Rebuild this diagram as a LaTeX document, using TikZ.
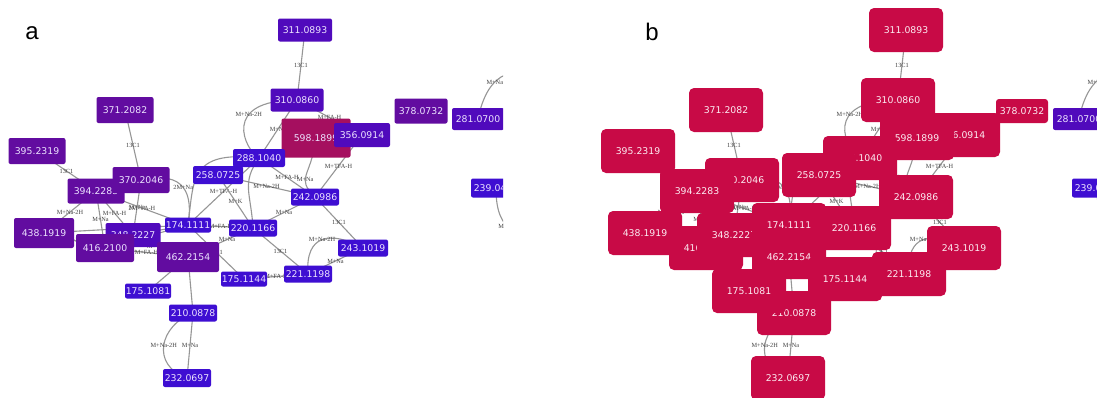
\documentclass[tikz,border=0pt]{standalone}
\usepackage{fontspec}
\setmainfont{Liberation Serif}
\newfontfamily\ionfont{DejaVu Sans}
\newfontfamily\letterfont{Liberation Sans}
\definecolor{ionblue}{RGB}{62,14,210}
\definecolor{ionviolet}{RGB}{80,10,188}
\definecolor{ionpurple}{RGB}{98,12,160}
\definecolor{ioncrimson}{RGB}{165,15,95}
\definecolor{selred}{RGB}{200,10,70}
\definecolor{edgegray}{RGB}{150,150,150}
\definecolor{iontext}{RGB}{236,226,255}
\definecolor{seltext}{RGB}{252,236,242}
\pgfdeclarelayer{paper}
\pgfdeclarelayer{links}
\pgfsetlayers{paper,links,main}
\tikzset{
  ion/.style={rectangle,rounded corners=2pt,inner sep=0pt,text=iontext,font=\ionfont\fontsize{9.3}{11}\selectfont},
  blu/.style={ion,fill=ionblue,minimum width=48pt,minimum height=17pt},
  vio/.style={ion,fill=ionviolet,minimum width=54pt,minimum height=23pt},
  pur/.style={ion,fill=ionpurple,minimum width=57pt,minimum height=26pt},
  sel/.style={ion,fill=selred,text=seltext,rounded corners=5pt,minimum width=74pt,minimum height=44pt},
  link/.style={draw=edgegray,line width=1.1pt},
  lbl/.style={font=\fontsize{6.3}{7}\selectfont,text=black!75,inner sep=0pt},
  letter/.style={font=\letterfont\fontsize{24}{24}\selectfont,inner sep=0pt}
}
\newcommand{\ionlinks}[1]{%
  \coordinate (#1far1) at (505,75);
  \coordinate (#1far2) at (512,232);
  \draw[link] (#1311.center) -- node[lbl]{13C1} (#1310.center);
  \draw[link] (#1371.center) -- node[lbl]{13C1} (#1370.center);
  \draw[link] (#1395.center) -- node[lbl]{13C1} (#1394.center);
  \draw[link] (#1220.center) -- node[lbl]{13C1} (#1221.center);
  \draw[link] (#1242.center) -- node[lbl]{13C1} (#1243.center);
  \draw[link] (#1174.center) -- node[lbl]{13C1} (#1175b.center);
  \draw[link] (#1288.center) -- node[lbl]{M+Na} (#1310.center);
  \draw[link] (#1310.center) -- node[lbl]{M+FA-H} (#1356.center);
  \draw[link] (#1356.center) -- node[lbl]{M+TFA-H} (#1242.center);
  \draw[link] (#1288.center) -- node[lbl]{M+FA-H} (#1242.center);
  \draw[link] (#1258.center) -- node[lbl]{M+Na-2H} (#1242.center);
  \draw[link] (#1288.center) -- node[lbl]{M+TFA-H} (#1174.center);
  \draw[link] (#1258.center) -- node[lbl]{M+K} (#1220.center);
  \draw[link] (#1242.center) -- node[lbl]{M+Na} (#1220.center);
  \draw[link] (#1174.center) -- node[lbl]{M+FA-H} (#1220.center);
  \draw[link] (#1221.center) -- node[lbl]{M+Na} (#1243.center);
  \draw[link] (#1175b.center) -- node[lbl]{M+FA-H} (#1221.center);
  \draw[link] (#1462.center) -- node[lbl,pos=.6]{M+Na} (#1220.center);
  \draw[link] (#1462.center) -- (#1175a.center);
  \draw[link] (#1462.center) -- (#1210.center);
  \draw[link] (#1210.center) -- node[lbl]{M+Na} (#1232.center);
  \draw[link] (#1394.center) -- node[lbl]{M+FA-H} (#1348.center);
  \draw[link] (#1416.center) -- node[lbl]{M+Na} (#1394.center);
  \draw[link] (#1438.center) -- node[lbl]{M+Na} (#1416.center);
  \draw[link] (#1438.center) -- node[lbl]{M+Na-2H} (#1394.center);
  \draw[link] (#1462.center) -- node[lbl]{M+FA-H} (#1416.center);
  \draw[link] (#1462.center) -- node[lbl]{M+TFA-H} (#1348.center);
  \draw[link] (#1370.center) -- node[lbl]{M+Na} (#1348.center);
  \draw[link] (#1394.center) -- node[lbl]{2M+FA-H} (#1174.center);
  \draw[link] (#1348.center) -- (#1174.center);
  \draw[link] (#1416.center) -- (#1174.center);
  \draw[link] (#1438.center) -- (#1174.center);
  \draw[link] (#1310.center) .. controls +(-77,0) and +(-14,-8) .. (#1288.center) node[lbl,pos=.35]{M+Na-2H};
  \draw[link] (#1598.center) .. controls +(-5,40) and +(-20,-20) .. (#1242.center) node[lbl,pos=.6]{M+Na};
  \draw[link] (#1288.center) .. controls +(-18,25) and +(-2,-35) .. (#1220.center);
  \draw[link] (#1288.center) .. controls +(-70,-8) and +(6,-45) .. (#1174.center);
  \draw[link] (#1221.center) .. controls +(-3,-39) and +(-33,-18) .. (#1243.center) node[lbl,pos=.5]{M+Na-2H};
  \draw[link] (#1210.center) .. controls +(-33,12) and +(-37,-13) .. (#1232.center) node[lbl,pos=.5]{M+Na-2H};
  \draw[link] (#1370.center) .. controls +(45,-10) and +(5,-30) .. (#1174.center) node[lbl,pos=.5]{2M+Na};
  \draw[link] (#1281.center) .. controls +(5,-25) and +(-12,5) .. (#1far1) node[lbl,pos=.7]{M+Na};
  \draw[link] (#1239.center) .. controls +(0,25) and +(-10,-10) .. (#1far2) node[lbl,pos=.8]{M+Na};
}

\begin{document}
\begin{tikzpicture}[x=1pt,y=-1pt]
	\useasboundingbox (0,0) rectangle (1097,397);
	\begin{pgfonlayer}{paper}
		\fill[white] (0,0) rectangle (1097,397);
	\end{pgfonlayer}
	\node[letter] (pa) at (32,33) {a};
	\node[letter] (pb) at (652,32) {b};
	\begin{scope}
		\clip (0,0) rectangle (503,397);
		\node[pur] (a371) at (125,110) {371.2082};
		\node[pur] (a395) at (37,151) {395.2319};
		\node[vio] (a311) at (305,30) {311.0893};
		\node[vio,minimum width=53pt] (a310) at (297,100) {310.0860};
		\node[ion,fill=ioncrimson,minimum width=69pt,minimum height=39pt] (a598) at (316,138) {598.1899};
		\node[vio,minimum width=56pt,minimum height=24pt] (a356) at (362,135) {356.0914};
		\node[pur,minimum width=53pt,minimum height=25pt] (a378) at (421,111) {378.0732};
		\node[vio,minimum width=52pt,minimum height=22pt] (a281) at (478,119) {281.0700};
		\node[blu,minimum width=50pt,minimum height=19pt] (a239) at (496,188) {239.0429};
		\node[blu,minimum width=52pt,minimum height=18pt] (a288) at (259,158) {288.1040};
		\node[blu,minimum width=50pt,minimum height=18pt] (a258) at (218,175) {258.0725};
		\node[blu] (a242) at (315,197) {242.0986};
		\node[pur,minimum height=25pt] (a394) at (96,191) {394.2283};
		\node[pur] (a370) at (141,180) {370.2046};
		\node[pur,minimum width=60pt,minimum height=30pt] (a438) at (44,233) {438.1919};
		\node[vio,minimum width=55pt,minimum height=24pt] (a348) at (133,235) {348.2227};
		\node[pur,minimum width=58pt,minimum height=28pt] (a416) at (105,248) {416.2100};
		\node[blu,minimum width=46pt,minimum height=15pt] (a174) at (188,225) {174.1111};
		\node[pur,minimum width=62pt,minimum height=30pt] (a462) at (188,257) {462.2154};
		\node[blu] (a220) at (253,228) {220.1166};
		\node[blu,minimum width=50pt] (a243) at (363,248) {243.1019};
		\node[blu] (a221) at (308,274) {221.1198};
		\node[blu,minimum width=46pt,minimum height=15pt] (a175b) at (244,279) {175.1144};
		\node[blu,minimum width=46pt,minimum height=15pt] (a175a) at (148,291) {175.1081};
		\node[blu] (a210) at (193,313) {210.0878};
		\node[blu,minimum height=18pt] (a232) at (187,378) {232.0697};
		\begin{pgfonlayer}{links}
			\begin{scope}
				\clip (0,0) rectangle (503,397);
				\ionlinks{a}
			\end{scope}
		\end{pgfonlayer}
	\end{scope}
	\begin{scope}[xshift=601pt]
		\clip (-60,0) rectangle (496,397);
		\node[sel] (b371) at (125,110) {371.2082};
		\node[sel] (b395) at (37,151) {395.2319};
		\node[sel] (b311) at (305,30) {311.0893};
		\node[sel] (b310) at (297,100) {310.0860};
		\node[sel] (b356) at (362,135) {356.0914};
		\node[sel] (b598) at (316,138) {598.1899};
		\node[sel,rounded corners=3pt,minimum width=52pt,minimum height=24pt] (b378) at (421,111) {378.0732};
		\node[vio,minimum width=52pt,minimum height=22pt] (b281) at (478,119) {281.0700};
		\node[blu,minimum width=50pt,minimum height=19pt] (b239) at (496,188) {239.0429};
		\node[sel] (b288) at (259,158) {288.1040};
		\node[sel] (b258) at (218,175) {258.0725};
		\node[sel] (b242) at (315,197) {242.0986};
		\node[sel] (b370) at (141,180) {370.2046};
		\node[sel] (b394) at (96,191) {394.2283};
		\node[sel] (b438) at (44,233) {438.1919};
		\node[sel] (b416) at (105,248) {416.2100};
		\node[sel] (b348) at (133,235) {348.2227};
		\node[sel] (b174) at (188,225) {174.1111};
		\node[sel] (b462) at (188,257) {462.2154};
		\node[sel] (b220) at (253,228) {220.1166};
		\node[sel] (b210) at (193,313) {210.0878};
		\node[sel] (b175a) at (148,291) {175.1081};
		\node[sel] (b175b) at (244,279) {175.1144};
		\node[sel] (b243) at (363,248) {243.1019};
		\node[sel] (b221) at (308,274) {221.1198};
		\node[sel] (b232) at (187,378) {232.0697};
		\begin{pgfonlayer}{links}
			\begin{scope}
				\clip (-60,0) rectangle (496,397);
				\ionlinks{b}
			\end{scope}
		\end{pgfonlayer}
	\end{scope}
\end{tikzpicture}
\end{document}
